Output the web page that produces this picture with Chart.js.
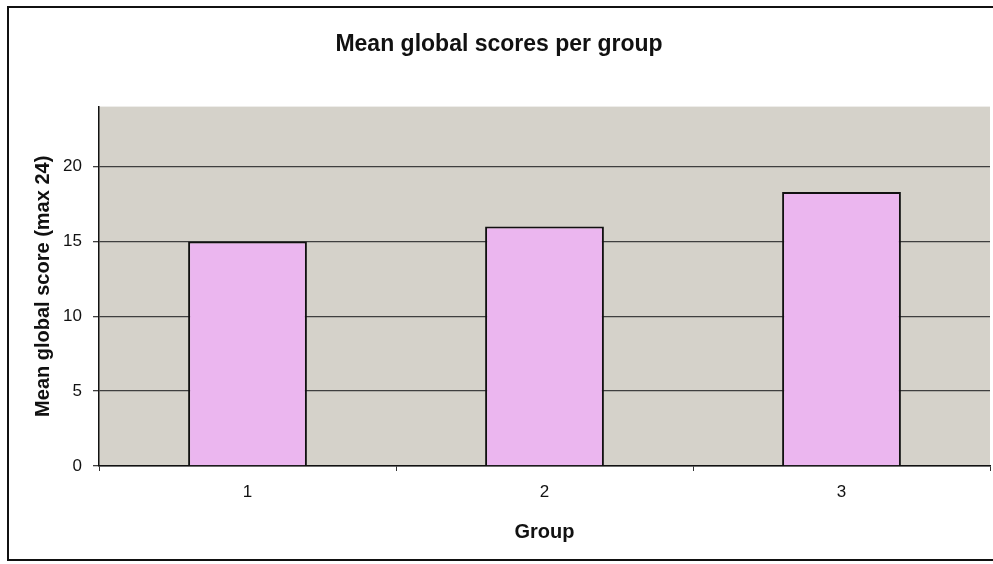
<!DOCTYPE html>
<html>
<head>
<meta charset="utf-8">
<script src="https://cdn.jsdelivr.net/npm/chart.js@4"></script>
<style>
    body { margin: 0; background: #fff; }
    #wrap { position: relative; width: 993px; height: 564px; }
</style>
</head>
<body>
<div id="wrap"><canvas id="scoreChart"></canvas></div>
<script>
const groups = ['1', '2', '3'];
const meanScores = [15.0, 16.0, 18.3];
const yTicks = [0, 5, 10, 15, 20];

document.addEventListener("DOMContentLoaded", function () {
    const ctx = document.getElementById('scoreChart').getContext('2d');

    // outer frame + grey plot background
    const backdrop = {
        id: 'backdrop',
        beforeDraw(chart) {
            const c = chart.ctx;
            const a = chart.chartArea;
            c.save();
            c.strokeStyle = '#111';
            c.lineWidth = 2;
            c.strokeRect(8, 7, 1010, 553);
            c.fillStyle = '#d5d2ca';
            c.fillRect(a.left, a.top, a.right - a.left, a.bottom - a.top);
            c.restore();
        }
    };

    new Chart(ctx, {
        type: 'bar',
        data: {
            labels: groups,
            datasets: [{
                data: meanScores,
                backgroundColor: '#ebb6ef',
                borderColor: '#111',
                borderWidth: 2,
                barPercentage: 0.8,
                categoryPercentage: 0.5
            }]
        },
        options: {
            responsive: true,
            maintainAspectRatio: false,
            animation: false,
            layout: { padding: { top: 31, left: 8, right: 3, bottom: 4 } },
            plugins: {
                legend: { display: false },
                tooltip: { enabled: false },
                title: {
                    display: true,
                    text: 'Mean global scores per group',
                    color: '#111',
                    font: { family: 'Liberation Sans', size: 23, weight: 'bold' },
                    padding: { top: 0, bottom: 48 }
                }
            },
            scales: {
                x: {
                    offset: true,
                    grid: {
                        offset: true,
                        drawOnChartArea: false,
                        tickLength: 5,
                        color: '#333'
                    },
                    border: { color: '#111', width: 1.5 },
                    ticks: {
                        color: '#111',
                        padding: 11,
                        font: { family: 'Liberation Sans', size: 17 }
                    },
                    title: {
                        display: true,
                        text: 'Group',
                        color: '#111',
                        font: { family: 'Liberation Sans', size: 20, weight: 'bold' },
                        padding: { top: 0, bottom: 16 }
                    },
                    afterFit: s => { s.height = 94; }
                },
                y: {
                    min: 0,
                    max: 24,
                    afterBuildTicks: s => {
                        s.ticks = yTicks.map(v => ({ value: v }));
                    },
                    grid: {
                        color: '#3f3f3f',
                        lineWidth: 1.3,
                        tickLength: 6
                    },
                    border: { color: '#111', width: 1.5 },
                    ticks: {
                        color: '#111',
                        padding: 11,
                        font: { family: 'Liberation Sans', size: 17 }
                    },
                    title: {
                        display: true,
                        text: 'Mean global score (max 24)',
                        color: '#111',
                        font: { family: 'Liberation Sans', size: 20, weight: 'bold' },
                        padding: { top: 23, bottom: 0 }
                    },
                    afterFit: s => { s.width = 91; }
                }
            }
        },
        plugins: [backdrop]
    });
});
</script>
</body>
</html>
